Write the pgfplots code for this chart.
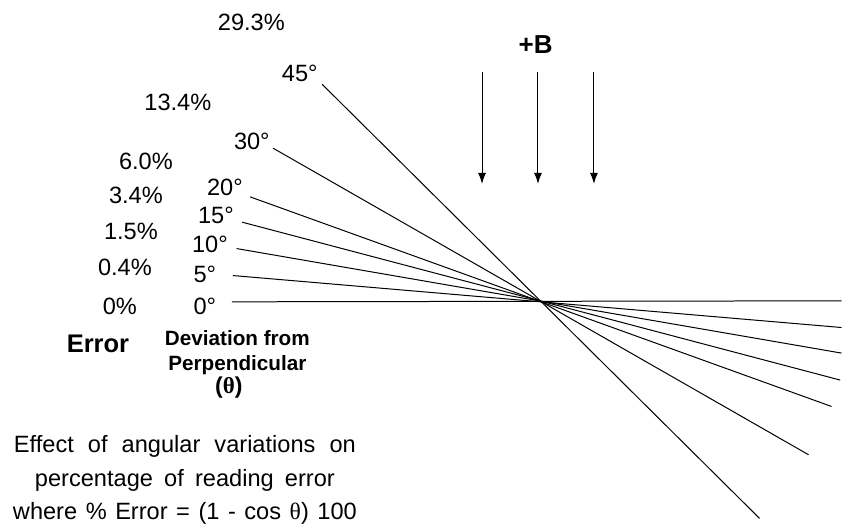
\documentclass[border=0pt]{standalone}
\usepackage{pgfplots}
\pgfplotsset{compat=1.18}
\usepackage{fontspec}
\setmainfont{Liberation Sans}
\newfontfamily\thetafont{Liberation Serif}
\usetikzlibrary{arrows.meta}
\newcommand{\reg}{\fontsize{23.6bp}{28bp}\selectfont}
\newcommand{\bsm}{\fontsize{20.7bp}{24bp}\selectfont\bfseries}
\begin{document}
\begin{tikzpicture}
\begin{axis}[
  scale only axis, width=842bp, height=525bp,
  xmin=0, xmax=842, ymin=0, ymax=525, y dir=reverse,
  hide axis, clip=false,
]
\path (axis cs:0,0) rectangle (axis cs:842,525);
% deviation lines through the common centre
\addplot[black, line width=1bp] coordinates {(232,302) (842,301)};
\addplot[black, line width=1bp] coordinates {(233,275.7) (842,327.7)};
\addplot[black, line width=1bp] coordinates {(236.7,248.7) (842,353.3)};
\addplot[black, line width=1bp] coordinates {(242.3,222.3) (840.7,380.3)};
\addplot[black, line width=1bp] coordinates {(250.3,197) (832,406.7)};
\addplot[black, line width=1bp] coordinates {(273.3,148.3) (809,455)};
\addplot[black, line width=1bp] coordinates {(322.3,84.3) (760,518.7)};
% field arrows
\addplot[black, line width=1bp, -{Latex[length=11bp,width=8bp]}] coordinates {(482.3,72) (482.3,184)};
\addplot[black, line width=1bp, -{Latex[length=11bp,width=8bp]}] coordinates {(538.3,72) (538.3,184)};
\addplot[black, line width=1bp, -{Latex[length=11bp,width=8bp]}] coordinates {(594.3,72) (594.3,184)};
% labels
\tikzset{lab/.style={inner sep=0pt, anchor=center}}
\node[lab] at (axis cs:536,45) {\fontsize{26bp}{30bp}\selectfont\bfseries +B};
\node[lab] at (axis cs:251.5,22) {\reg 29.3\%};
\node[lab] at (axis cs:178,102) {\reg 13.4\%};
\node[lab] at (axis cs:146,161) {\reg 6.0\%};
\node[lab] at (axis cs:136,195) {\reg 3.4\%};
\node[lab] at (axis cs:131,232) {\reg 1.5\%};
\node[lab] at (axis cs:125,268) {\reg 0.4\%};
\node[lab] at (axis cs:120,307) {\reg 0\%};
\node[lab] at (axis cs:300,73) {\reg 45°};
\node[lab] at (axis cs:252,141) {\reg 30°};
\node[lab] at (axis cs:225,187) {\reg 20°};
\node[lab] at (axis cs:216,216) {\reg 15°};
\node[lab] at (axis cs:210,245) {\reg 10°};
\node[lab] at (axis cs:205,275) {\reg 5°};
\node[lab] at (axis cs:205,307) {\reg 0°};
\node[lab] at (axis cs:98,344) {\fontsize{25.5bp}{30bp}\selectfont\bfseries Error};
\node[lab] at (axis cs:237.5,338) {\bsm Deviation from};
\node[lab] at (axis cs:237.5,365) {\bsm Perpendicular};
\node[lab] at (axis cs:229,388) {\fontsize{23bp}{28bp}\selectfont\bfseries ({\thetafont θ})};
\node[lab] at (axis cs:185,447) {\reg\makebox[342bp][s]{Effect of angular variations on}};
\node[lab] at (axis cs:185,481) {\reg\makebox[300bp][s]{percentage of reading error}};
\node[lab] at (axis cs:185,514) {\reg\makebox[344bp][s]{where \% Error = (1 - cos {\thetafont θ}) 100}};
\end{axis}
\end{tikzpicture}
\end{document}
